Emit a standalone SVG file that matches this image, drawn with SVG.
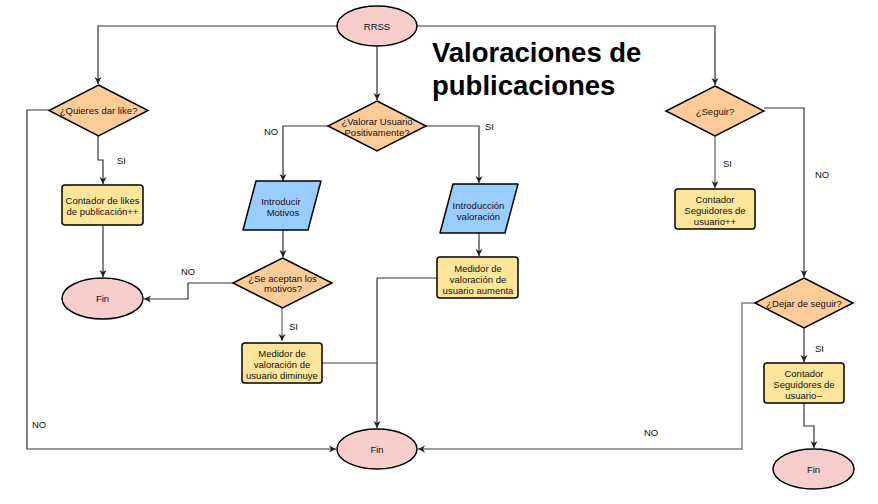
<svg xmlns="http://www.w3.org/2000/svg" width="878" height="504" viewBox="0 0 878 504">
<style>
.t{font-family:"Liberation Sans",Arial,sans-serif;font-size:9.5px;fill:#111;text-anchor:middle}
.lb{font-family:"Liberation Sans",Arial,sans-serif;font-size:9.5px;fill:#111}
.title{font-family:"Liberation Sans",Arial,sans-serif;font-size:27.5px;font-weight:bold;fill:#000}
.term{fill:#f8cecc;stroke:#000;stroke-width:1.5}
.dec{fill:#ffcc99;stroke:#000;stroke-width:1.5}
.proc{fill:#ffe599;stroke:#000;stroke-width:1.5}
.io{fill:#99ccff;stroke:#000;stroke-width:1.5;stroke-linejoin:round}
.c{fill:none;stroke:#333;stroke-width:1.2}
.cg{fill:none;stroke:#808080;stroke-width:1.5}
</style>
<defs>
<marker id="a" markerUnits="userSpaceOnUse" markerWidth="8" markerHeight="8" refX="7" refY="4" orient="auto">
<path d="M0,0.5 L7,4 L0,7.5 L2,4 z" fill="#222"/>
</marker>
</defs>
<rect width="878" height="504" fill="#fff"/>
<g id="connectors">
<path class="c" d="M337,26 H98 V84" marker-end="url(#a)"/>
<path class="c" d="M417,26 H715 V85" marker-end="url(#a)"/>
<path class="c" d="M377,46 V100" marker-end="url(#a)"/>
<path class="c" d="M98,136 V160 H103 V184" marker-end="url(#a)"/>
<path class="c" d="M103,225 V277" marker-end="url(#a)"/>
<path class="c" d="M49,110 H27 V449 H336" marker-end="url(#a)"/>
<path class="c" d="M328,126 H283 V181" marker-end="url(#a)"/>
<path class="c" d="M426,126 H479 V183" marker-end="url(#a)"/>
<path class="c" d="M283,230 V257" marker-end="url(#a)"/>
<path class="c" d="M233,283 H188 V299 H144" marker-end="url(#a)"/>
<path class="cg" d="M282,308 V341" marker-end="url(#a)"/>
<path class="c" d="M479,233 V256" marker-end="url(#a)"/>
<path class="c" d="M437,278 H377"/>
<path class="cg" d="M322,363 H377"/>
<path class="c" d="M377,278 V428" marker-end="url(#a)"/>
<path class="c" d="M764,108 H804 V277" marker-end="url(#a)"/>
<path class="cg" d="M715,136 V188" marker-end="url(#a)"/>
<path class="cg" d="M755,303 H742 V449 H418" marker-end="url(#a)"/>
<path class="c" d="M804,328 V362" marker-end="url(#a)"/>
<path class="c" d="M804,403 V426 H814 V448" marker-end="url(#a)"/>
<text class="lb" x="117" y="164">SI</text>
<text class="lb" x="264" y="135">NO</text>
<text class="lb" x="485" y="130">SI</text>
<text class="lb" x="181" y="275">NO</text>
<text class="lb" x="289" y="330">SI</text>
<text class="lb" x="32" y="428">NO</text>
<text class="lb" x="723" y="167">SI</text>
<text class="lb" x="815" y="178">NO</text>
<text class="lb" x="815" y="352">SI</text>
<text class="lb" x="644" y="436">NO</text>
</g>
<g id="title">
<text class="title" x="432" y="62">Valoraciones de</text>
<text class="title" x="432" y="95">publicaciones</text>
</g>
<g id="rrss">
<ellipse class="term" cx="377" cy="26" rx="40" ry="20"/>
<text class="t" x="377" y="29.5">RRSS</text>
</g>
<g id="quieres-like">
<polygon class="dec" points="98.5,85 148,110.5 98.5,136 49,110.5"/>
<text class="t" x="98.5" y="114">¿Quieres dar like?</text>
</g>
<g id="contador-likes">
<rect class="proc" x="62" y="185" width="81" height="40" rx="3"/>
<text class="t" x="102.5" y="204">Contador de likes</text>
<text class="t" x="102.5" y="215">de publicación++</text>
</g>
<g id="fin-left">
<ellipse class="term" cx="102.5" cy="298.5" rx="40.5" ry="20.5"/>
<text class="t" x="102.5" y="302">Fin</text>
</g>
<g id="valorar">
<polygon class="dec" points="377,101 426,126 377,151 328,126"/>
<text class="t" x="377" y="124.5">¿Valorar Usuario</text>
<text class="t" x="377" y="135.5">Positivamente?</text>
</g>
<g id="introducir-motivos">
<polygon class="io" points="256,181 321,181 308,230 243,230"/>
<text class="t" x="281" y="205">Introducir</text>
<text class="t" x="283" y="216">Motivos</text>
</g>
<g id="se-aceptan">
<polygon class="dec" points="282.5,258 332,283 282.5,308 233,283"/>
<text class="t" x="282.5" y="281.5">¿Se aceptan los</text>
<text class="t" x="283" y="292">motivos?</text>
</g>
<g id="medidor-diminuye">
<rect class="proc" x="242" y="343" width="80" height="40" rx="3"/>
<text class="t" x="282" y="356.5">Medidor de</text>
<text class="t" x="282" y="367.5">valoración de</text>
<text class="t" x="282" y="378.5">usuario diminuye</text>
</g>
<g id="introduccion-valoracion">
<polygon class="io" points="453,184 518,184 505,233 440,233"/>
<text class="t" x="478.5" y="208.5">Introducción</text>
<text class="t" x="478.5" y="219.5">valoración</text>
</g>
<g id="medidor-aumenta">
<rect class="proc" x="437" y="257" width="81" height="41" rx="3"/>
<text class="t" x="478" y="271.5">Medidor de</text>
<text class="t" x="478" y="282.5">valoración de</text>
<text class="t" x="478" y="293.5">usuario aumenta</text>
</g>
<g id="fin-center">
<ellipse class="term" cx="377" cy="449" rx="40" ry="20"/>
<text class="t" x="377" y="452.5">Fin</text>
</g>
<g id="seguir">
<polygon class="dec" points="715,86 764,111 715,136 666,111"/>
<text class="t" x="715" y="114.5">¿Seguir?</text>
</g>
<g id="contador-seguidores-mas">
<rect class="proc" x="675" y="189" width="80" height="40" rx="3"/>
<text class="t" x="715" y="202.5">Contador</text>
<text class="t" x="715" y="213.5">Seguidores de</text>
<text class="t" x="715" y="224.5">usuario++</text>
</g>
<g id="dejar-seguir">
<polygon class="dec" points="804,278 853,303 804,328 755,303"/>
<text class="t" x="804" y="306.5">¿Dejar de seguir?</text>
</g>
<g id="contador-seguidores-menos">
<rect class="proc" x="764" y="363" width="80" height="40" rx="3"/>
<text class="t" x="804" y="376.5">Contador</text>
<text class="t" x="804" y="387.5">Seguidores de</text>
<text class="t" x="804" y="398.5">usuario--</text>
</g>
<g id="fin-right">
<ellipse class="term" cx="813.5" cy="469" rx="40.5" ry="20"/>
<text class="t" x="813.5" y="472.5">Fin</text>
</g>
</svg>
